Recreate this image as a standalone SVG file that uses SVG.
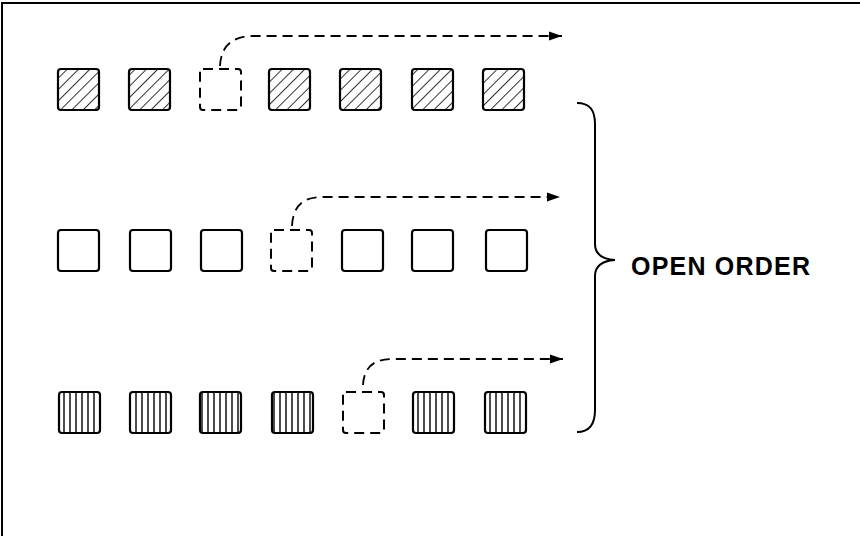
<svg xmlns="http://www.w3.org/2000/svg" width="860" height="536" viewBox="0 0 860 536">
  <style>
    .frame { stroke: #000; stroke-width: 2; fill: none; }
    .box { stroke: #000; stroke-width: 2.2; }
    .plain { fill: #fff; }
    .diag { fill: url(#diagHatch); }
    .vert { fill: url(#vertHatch); }
    .empty { fill: none; stroke: #000; stroke-width: 2; stroke-dasharray: 10 6; }
    .move { fill: none; stroke: #000; stroke-width: 1.8; stroke-dasharray: 10 6; }
    .brace { fill: none; stroke: #000; stroke-width: 2; }
    .label { font-family: "Liberation Sans", Arial, sans-serif; font-weight: bold; font-size: 25px; fill: #000; }
  </style>
  <defs>
    <pattern id="diagHatch" patternUnits="userSpaceOnUse" width="8" height="8" patternTransform="rotate(-45)">
      <rect width="8" height="8" fill="#fff"/>
      <line x1="0" y1="0" x2="8" y2="0" stroke="#000" stroke-width="1.6"/>
    </pattern>
    <pattern id="vertHatch" patternUnits="userSpaceOnUse" x="1" width="6" height="10">
      <rect width="6" height="10" fill="#fff"/>
      <line x1="3" y1="0" x2="3" y2="10" stroke="#000" stroke-width="1.4"/>
    </pattern>
    <marker id="head" markerWidth="14" markerHeight="10" refX="13" refY="5" orient="auto" markerUnits="userSpaceOnUse">
      <path d="M0,0.5 L13,5 L0,9.5 Z" fill="#000"/>
    </marker>
  </defs>

  <!-- frame -->
  <path class="frame" d="M2,536 L2,3 L860,3"/>

  <!-- row 1: diagonal-hatched cells -->
  <g id="row1">
    <rect id="r1c1" class="box diag" x="58" y="69" width="41" height="41" rx="3"/>
    <rect id="r1c2" class="box diag" x="129" y="69" width="41" height="41" rx="3"/>
    <rect id="r1c3" class="empty" x="200" y="69" width="41" height="41" rx="3"/>
    <rect id="r1c4" class="box diag" x="269" y="69" width="41" height="41" rx="3"/>
    <rect id="r1c5" class="box diag" x="340" y="69" width="41" height="41" rx="3"/>
    <rect id="r1c6" class="box diag" x="412" y="69" width="41" height="41" rx="3"/>
    <rect id="r1c7" class="box diag" x="483" y="69" width="41" height="41" rx="3"/>
  </g>

  <!-- row 2: plain cells -->
  <g id="row2">
    <rect id="r2c1" class="box plain" x="58" y="230" width="41" height="41" rx="3"/>
    <rect id="r2c2" class="box plain" x="130" y="230" width="41" height="41" rx="3"/>
    <rect id="r2c3" class="box plain" x="201" y="230" width="41" height="41" rx="3"/>
    <rect id="r2c4" class="empty" x="271" y="230" width="41" height="41" rx="3"/>
    <rect id="r2c5" class="box plain" x="342" y="230" width="41" height="41" rx="3"/>
    <rect id="r2c6" class="box plain" x="412" y="230" width="41" height="41" rx="3"/>
    <rect id="r2c7" class="box plain" x="486" y="230" width="41" height="41" rx="3"/>
  </g>

  <!-- row 3: vertical-hatched cells -->
  <g id="row3">
    <rect id="r3c1" class="box vert" x="59" y="392" width="41" height="41" rx="3"/>
    <rect id="r3c2" class="box vert" x="130" y="392" width="41" height="41" rx="3"/>
    <rect id="r3c3" class="box vert" x="200" y="392" width="41" height="41" rx="3"/>
    <rect id="r3c4" class="box vert" x="272" y="392" width="41" height="41" rx="3"/>
    <rect id="r3c5" class="empty" x="343" y="392" width="41" height="41" rx="3"/>
    <rect id="r3c6" class="box vert" x="413" y="392" width="41" height="41" rx="3"/>
    <rect id="r3c7" class="box vert" x="485" y="392" width="41" height="41" rx="3"/>
  </g>

  <!-- connectors -->
  <g id="connectors">
    <path class="move" marker-end="url(#head)" d="M220,66 C221,46 232,36 254,36 L562,36"/>
    <path class="move" marker-end="url(#head)" d="M292,226 C293,206 303,197 322,197 L560,197"/>
    <path class="move" marker-end="url(#head)" d="M363,385 C364,367 374,359 392,359 L563,359"/>
  </g>

  <!-- brace and label -->
  <g id="open-order">
    <path class="brace" d="M577,103 C590,103 595,110 595,124 L595,244 C595,253 601,259 615,260 C601,261 595,267 595,276 L595,410 C595,424 590,432 577,432"/>
    <text class="label" x="631" y="275" textLength="179" lengthAdjust="spacing">OPEN ORDER</text>
  </g>
</svg>
